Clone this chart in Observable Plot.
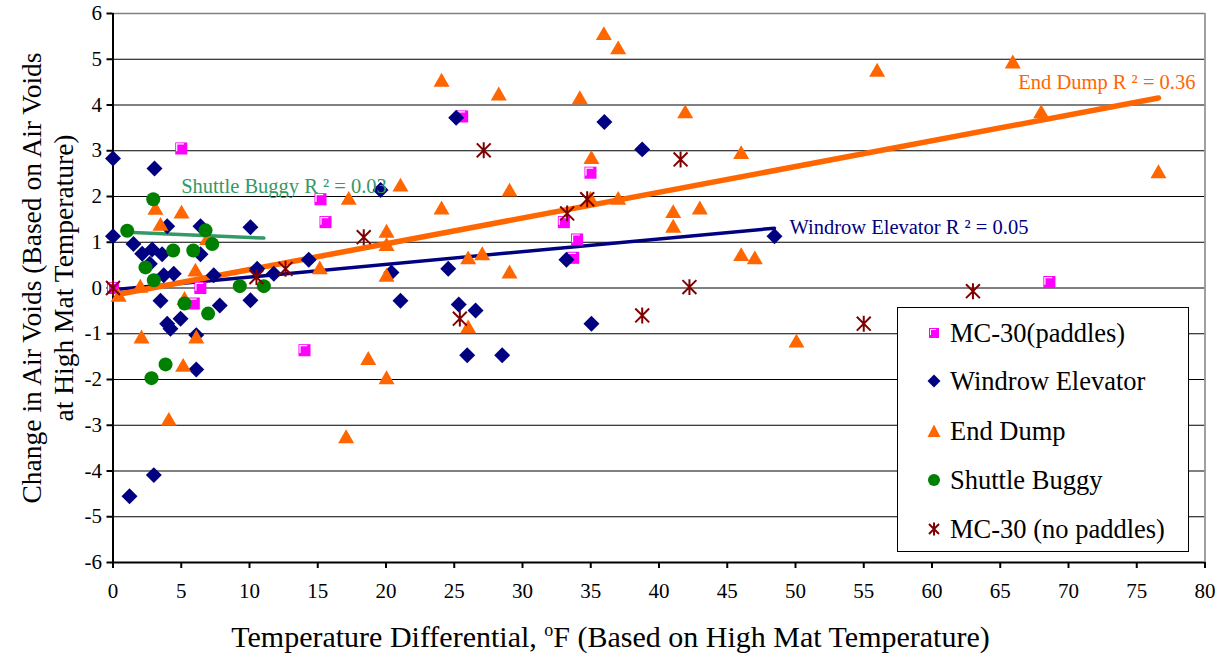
<!DOCTYPE html>
<html><head><meta charset="utf-8">
<script src="https://cdn.jsdelivr.net/npm/d3@7"></script>
<script src="https://cdn.jsdelivr.net/npm/@observablehq/plot@0.6"></script>
<style>
html,body{margin:0;padding:0;background:#fff;overflow:hidden}
#wrap{position:relative;width:1225px;height:657px;font-family:"Liberation Serif","Times New Roman",serif;color:#000}
#xtitle{position:absolute;left:-2px;top:621px;width:1225px;text-align:center;font-size:30px;line-height:32px}
#xtitle sup{font-size:18px;vertical-align:11px;line-height:0}
#legend{position:absolute;left:897px;top:307px;width:292px;height:245px;box-sizing:border-box;border:1.5px solid #000;background:#fff}
.lrow{position:absolute;left:0;height:30px;line-height:30px;font-size:26.5px;white-space:nowrap}
.lrow svg{position:absolute;left:28px;top:7px}
.lrow span{position:absolute;left:52px;top:0}
</style></head><body><div id="wrap"><div id="chart"></div><div id="xtitle">Temperature Differential, <sup>o</sup>F (Based on High Mat Temperature)</div><div id="legend"></div></div>
<script>
// ---------- data ----------
const xTicks = [0,5,10,15,20,25,30,35,40,45,50,55,60,65,70,75,80];
const yTicks = [-6,-5,-4,-3,-2,-1,0,1,2,3,4,5,6];
const seriesNames = ["MC-30(paddles)","Windrow Elevator","End Dump","Shuttle Buggy","MC-30 (no paddles)"];

const paddlesX = [0, 5.0, 6.4, 5.92, 25.58, 15.2, 15.57, 14.03, 34.98, 33.03, 34.0, 33.71, 68.6];
const paddlesY = [0, 3.05, 0.0, -0.34, 3.75, 1.94, 1.44, -1.36, 2.52, 1.44, 1.06, 0.66, 0.13];

const windrowX = [0, 3.04, 3.97, 6.41, 10.07, 0, 1.5, 2.14, 2.87, 3.6, 6.41, 2.7, 3.72, 4.45, 10.56, 11.78, 7.38, 3.48, 7.82, 10.07, 4.95, 3.97, 4.21, 6.1, 6.1, 2.99, 1.21, 25.14, 19.6, 14.34, 24.56, 20.4, 21.06, 25.33, 26.56, 25.95, 28.51, 36.0, 38.77, 33.22, 35.05, 48.46];
const windrowY = [2.83, 2.61, 1.35, 1.35, 1.33, 1.13, 0.96, 0.75, 0.84, 0.74, 0.74, 0.53, 0.28, 0.31, 0.42, 0.31, 0.28, -0.28, -0.38, -0.27, -0.67, -0.78, -0.89, -1.03, -1.78, -4.09, -4.55, 3.72, 2.14, 0.62, 0.42, 0.34, -0.28, -0.36, -0.49, -1.47, -1.47, 3.63, 3.03, 0.62, -0.78, 1.13];

const endDumpX = [3.11, 5.02, 3.48, 6.9, 6.04, 2.0, 0.42, 5.24, 2.09, 6.1, 5.14, 4.09, 24.07, 28.26, 21.06, 29.05, 17.27, 24.07, 20.04, 20.04, 15.15, 26.02, 27.05, 29.05, 20.04, 26.02, 18.7, 20.04, 17.08, 35.96, 37.01, 34.2, 41.92, 46.02, 35.05, 34.98, 37.01, 41.04, 42.99, 41.04, 46.02, 47.02, 50.07, 55.98, 65.92, 68.0, 76.59];
const endDumpY = [1.70, 1.62, 1.35, 1.04, 0.35, 0.0, -0.20, -0.27, -1.11, -1.11, -1.73, -2.91, 4.5, 4.2, 2.21, 2.1, 1.92, 1.71, 1.20, 0.91, 0.40, 0.62, 0.71, 0.31, 0.24, -0.89, -1.58, -2.0, -3.29, 5.52, 5.21, 4.12, 3.81, 2.92, 2.81, 1.92, 1.92, 1.63, 1.71, 1.31, 0.69, 0.62, -1.2, 4.72, 4.9, 3.81, 2.5];

const shuttleX = [2.95, 1.04, 6.78, 7.27, 4.41, 5.88, 2.38, 2.99, 9.29, 11.05, 5.24, 6.97, 3.85, 2.82];
const shuttleY = [1.94, 1.25, 1.26, 0.96, 0.82, 0.82, 0.45, 0.17, 0.04, 0.04, -0.34, -0.56, -1.67, -1.97];

const noPaddlesX = [0, 10.51, 12.64, 18.37, 27.16, 25.41, 34.74, 33.27, 41.58, 42.23, 38.77, 55.0, 63.0];
const noPaddlesY = [0, 0.24, 0.42, 1.11, 3.01, -0.67, 1.94, 1.63, 2.81, 0.02, -0.6, -0.78, -0.07];

// linear trendlines (Excel): series, intercept, slope, x-range, R²
const trendSeries    = ["Shuttle Buggy", "Windrow Elevator", "End Dump"];
const trendIntercept = [1.234, -0.04, -0.16];
const trendSlope     = [-0.013, 0.0278, 0.0563];
const trendXStart    = [1.04, 0, 0.42];
const trendXEnd      = [11.05, 48.46, 76.59];
const trendR2        = ["0.03", "0.05", "0.36"];

const yTitle = "Change in Air Voids (Based on Air Voids\nat High Mat Temperature)";

// ---------- styling ----------
const serif = '"Liberation Serif","Times New Roman",serif';
const colors = {"MC-30(paddles)":"#FF00FF","Windrow Elevator":"#000080","End Dump":"#FF6600","Shuttle Buggy":"#008000","MC-30 (no paddles)":"#800000"};
const trendColors = {"Shuttle Buggy":"#339966","Windrow Elevator":"#000080","End Dump":"#FF6600"};
const trendWidths = {"Shuttle Buggy":3.5,"Windrow Elevator":3.5,"End Dump":5.5};
const labelOffsets = { // relative to the trendline end (start for shuttle) in px
  "Shuttle Buggy":{at:"start", dx:54, dy:-46, anchor:"start"},
  "Windrow Elevator":{at:"end", dx:15, dy:-1, anchor:"start"},
  "End Dump":{at:"end", dx:37, dy:-16, anchor:"end"}
};

const rows = (xs, ys) => xs.map((x,i)=>({x, y: ys[i]}));
const paddles = rows(paddlesX, paddlesY);
const windrow = rows(windrowX, windrowY);
const endDump = rows(endDumpX, endDumpY);
const shuttle = rows(shuttleX, shuttleY);
const noPaddles = rows(noPaddlesX, noPaddlesY);

const trendLines = [];
const trendLabels = [];
trendSeries.forEach((s,i)=>{
  const a = {series:s, x:trendXStart[i], y:trendIntercept[i]+trendSlope[i]*trendXStart[i]};
  const b = {series:s, x:trendXEnd[i], y:trendIntercept[i]+trendSlope[i]*trendXEnd[i]};
  trendLines.push(a, b);
  const o = labelOffsets[s];
  const p = o.at === "start" ? a : b;
  trendLabels.push({series:s, x:p.x, y:p.y, text:`${s} R \u00B2 = ${trendR2[i]}`});
});

const starSymbol = {draw(ctx, size){ const s=Math.sqrt(size); const v=s*0.64, d=s*0.56;
  ctx.moveTo(0,-v); ctx.lineTo(0,v); ctx.moveTo(-d,-d); ctx.lineTo(d,d); ctx.moveTo(d,-d); ctx.lineTo(-d,d);} };
const cornerSymbol = {draw(ctx, size){ const h=Math.sqrt(size)/2;
  ctx.moveTo(-h+1.5, h*0.45); ctx.lineTo(-h+1.5,-h+1.5); ctx.lineTo(h*0.45,-h+1.5);} };

const marks = [
  Plot.gridY(d3.range(-5,6), {stroke:"#000", strokeOpacity:1, strokeWidth:1}),
  Plot.ruleY([6], {stroke:"#808080", strokeWidth:1.5}),
  Plot.ruleX([80], {stroke:"#808080", strokeWidth:1.5}),
  Plot.axisX({ticks:xTicks, tickSize:6, tickPadding:15, tickFormat:d=>String(d), label:null, fontSize:21, fontFamily:serif, strokeWidth:2}),
  Plot.axisY({ticks:yTicks, tickSize:6, tickPadding:5, tickFormat:d=>String(d), label:null, fontSize:21, fontFamily:serif, strokeWidth:2}),
  Plot.ruleY([-6], {stroke:"#000", strokeWidth:2}),
  Plot.ruleX([0], {stroke:"#000", strokeWidth:2}),
  Plot.text([yTitle], {frameAnchor:"left", textAnchor:"middle", rotate:-90, dx:-66, dy:-10, fontSize:27.5, lineHeight:1.17, fontFamily:serif, fill:"#000"}),
];
trendSeries.forEach(s=>{
  marks.push(Plot.line(trendLines.filter(d=>d.series===s), {x:"x", y:"y", stroke:trendColors[s], strokeWidth:trendWidths[s]}));
});
marks.push(
  Plot.dot(paddles, {x:"x", y:"y", symbol:"square", r:6.8, fill:colors["MC-30(paddles)"], stroke:"none"}),
  Plot.dot(paddles, {x:"x", y:"y", symbol:cornerSymbol, r:6.8, fill:"none", stroke:"#fff", strokeWidth:1.2}),
  Plot.dot(windrow, {x:"x", y:"y", symbol:"diamond2", r:7.2, fill:colors["Windrow Elevator"], stroke:"none"}),
  Plot.dot(endDump, {x:"x", y:"y", symbol:"triangle", r:5.95, fill:colors["End Dump"], stroke:"none"}),
  Plot.dot(shuttle, {x:"x", y:"y", r:7, fill:colors["Shuttle Buggy"], stroke:"none"}),
  Plot.dot(noPaddles, {x:"x", y:"y", symbol:starSymbol, r:7, fill:"none", stroke:colors["MC-30 (no paddles)"], strokeWidth:2})
);
trendLabels.forEach(d=>{
  const o = labelOffsets[d.series];
  marks.push(Plot.text([d], {x:"x", y:"y", text:"text", dx:o.dx, dy:o.dy, textAnchor:o.anchor, fontSize:20.5, fontFamily:serif, fill:trendColors[d.series]}));
});

const chart = Plot.plot({
  width:1225, height:657,
  marginLeft:112.5, marginRight:20.5, marginTop:13, marginBottom:95,
  x:{domain:[0,80]},
  y:{domain:[-6,6]},
  style:{fontFamily:serif, background:"#fff", color:"#000", overflow:"visible"},
  marks
});
document.getElementById("chart").appendChild(chart);

// ---------- legend ----------
const legendSymbols = {
  "MC-30(paddles)": `<rect x="3" y="3" width="10" height="10" fill="#FF00FF"/><path d="M4.5 10V4.5H10" stroke="#fff" stroke-width="1" fill="none"/>`,
  "Windrow Elevator": `<path d="M8 1.5L14.5 8L8 14.5L1.5 8Z" fill="#000080"/>`,
  "End Dump": `<path d="M8 1.5L14.5 14L1.5 14Z" fill="#FF6600"/>`,
  "Shuttle Buggy": `<circle cx="8" cy="8" r="6" fill="#008000"/>`,
  "MC-30 (no paddles)": `<path d="M8 1.5V14.5M3 3L13 13M13 3L3 13" stroke="#800000" stroke-width="2" fill="none"/>`
};
const rowCenters = [26, 74.5, 124.5, 173, 222];
const legend = document.getElementById("legend");
seriesNames.forEach((n,i)=>{
  const r = document.createElement("div");
  r.className = "lrow";
  r.style.top = (rowCenters[i]-15-1.5)+"px";
  r.innerHTML = `<svg width="16" height="16" viewBox="0 0 16 16">${legendSymbols[n]}</svg><span>${n}</span>`;
  legend.appendChild(r);
});
</script>
</body></html>
